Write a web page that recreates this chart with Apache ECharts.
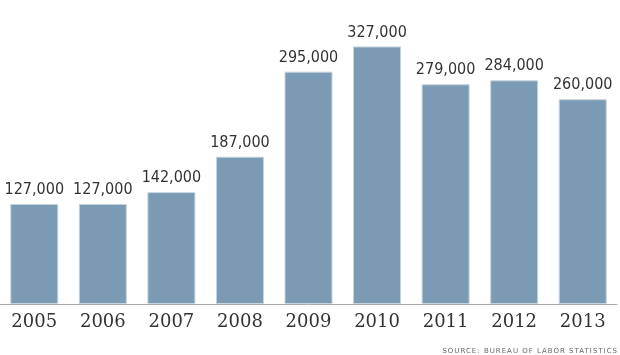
<!DOCTYPE html>
<html><head><meta charset="utf-8">
<script src="https://cdn.jsdelivr.net/npm/echarts@6/dist/echarts.min.js"></script>
<style>
html,body{margin:0;padding:0;background:#fff;}
#c{width:620px;height:355px;position:relative;}
#src{position:absolute;right:2px;top:347px;font-family:'DejaVu Sans','Liberation Sans',sans-serif;font-size:7px;letter-spacing:1px;color:#666;white-space:nowrap;}
</style></head>
<body>
<div id="c"></div>
<div id="src">SOURCE: BUREAU OF LABOR STATISTICS</div>
<script>
const years = ['2005','2006','2007','2008','2009','2010','2011','2012','2013'];
const values = [127000,127000,142000,187000,295000,327000,279000,284000,260000];
const chart = echarts.init(document.getElementById('c'));
chart.setOption({
  animation:false,
  grid:{left:0,right:3,top:0,bottom:51},
  xAxis:{type:'category',data:years,
    axisLine:{lineStyle:{color:'#aaaaaa',width:1}},
    axisTick:{show:false},
    axisLabel:{fontFamily:'DejaVu Serif, Liberation Serif, serif',fontSize:18,color:'#333',margin:9}},
  yAxis:{type:'value',min:0,max:386000,show:false,splitLine:{show:false}},
  series:[{type:'bar',data:values,barCategoryGap:'30%',
    itemStyle:{color:'#7a9bb3',borderColor:'#c5d3dd',borderWidth:1},
    label:{show:true,position:'top',distance:6,
      formatter:p=>p.value.toLocaleString('en-US'),
      fontWeight:'normal condensed',
      fontFamily:'DejaVu Sans Condensed, DejaVu Sans, sans-serif',fontSize:16,color:'#333'}}]
});
</script>
</body></html>
